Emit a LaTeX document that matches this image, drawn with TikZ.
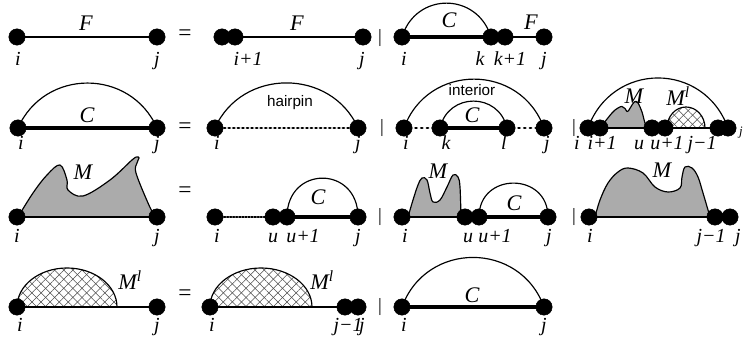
\documentclass[tikz,border=0pt]{standalone}
\usepackage{fontspec}
\setmainfont{Liberation Serif}
\newfontfamily\hlvfont{Liberation Sans}
\usepackage{tkz-euclide}
\usetikzlibrary{patterns.meta}
\definecolor{MClr}{rgb}{0.67,0.67,0.67}
\definecolor{HatchClr}{rgb}{0.3,0.3,0.3}

\begin{document}
\begin{tikzpicture}[x=.03cm,y=.03cm,
  lab/.style={font=\fontsize{17}{19}\selectfont\itshape,anchor=base,inner sep=0pt},
  big/.style={font=\fontsize{19}{22}\selectfont\itshape,inner sep=0pt},
  eq/.style={font=\fontsize{20}{22}\selectfont,inner sep=0pt},
  bar/.style={font=\fontsize{16}{18}\selectfont,inner sep=0pt},
  word/.style={font=\fontsize{13}{15}\selectfont\hlvfont,inner sep=0pt},
  bond/.style={line width=1pt,color=black},
  stem/.style={line width=3.4pt,color=black},
  loopln/.style={line width=2.5pt,color=black,dash pattern=on .9pt off #1},
  mshape/.style={fill=MClr,draw=black,line width=1pt,line join=round},
  hatch/.style={pattern={Lines[angle=#1,distance=5.5pt,line width=.45pt]},pattern color=HatchClr}]
\useasboundingbox (0,0) rectangle (745,343);
\tkzSetUpLine[line width=1pt,color=black]
\tkzSetUpPoint[fill=black]

% row 1
\tkzDefPoints{17/306/Fi,157/306/Fj,222/306/Gi,235/306/Gi1,363/306/Gj,
  402/306/Hi,491/306/Hk,505/306/Hk1,544/306/Hj}
% row 2
\tkzDefPoints{18/215/Ci,157/215/Cj,215/215/Pi,358/215/Pj,
  404/215/Ii,440/215/Ik,507/215/Il,544/215/Ij,
  588/215/Ki,600/215/Ki1,652/215/Ku,665/215/Ku1,667/215/Kd,718/215/Kj1,728/215/Kj}
% row 3
\tkzDefPoints{17/126/Mi,157/126/Mj,215/126/Ni,273/126/Nu,287/126/Nu1,358/126/Nj,
  402/126/Oi,465/126/Ou,479/126/Ou1,548/126/Oj,589/126/Qi,715/126/Qj1,730/126/Qj}
% row 4
\tkzDefPoints{17/36/Li,157/36/Lj,210/36/Ri,345/36/Rj1,358/36/Rj,402/36/Si,544/36/Sj}

% multiloop shapes
\filldraw[mshape] plot[smooth,tension=.6] coordinates {(18,126) (33,150) (47,168) (60,178)
  (67,163) (68,153) (83,147) (110,163) (132,183) (137,186) (139,185) (137,180) (136,170)
  (148,140) (155,126)} -- cycle;
\filldraw[mshape] plot[smooth,tension=.6] coordinates {(600,215) (612,230) (618,235)
  (622,236.5) (625,234.5) (627,231.5) (629,233) (632,238) (635,241.5) (638,240) (642,231)
  (645,220) (648,215)} -- cycle;
\filldraw[mshape] plot[smooth,tension=.6] coordinates {(408,126) (413,143) (418,158)
  (422,165) (427,163) (430,150) (433,141) (440,143) (447,156) (453,168) (458,166)
  (460,156) (461,126)} -- cycle;
\filldraw[mshape] plot[smooth,tension=.6] coordinates {(595,126) (600,143) (608,160)
  (618,171) (628,175) (643,170) (655,156) (668,151) (680,155) (682,166) (685,176)
  (692,175) (698,166) (703,150) (708,133) (710,126)} -- cycle;

% hatched domes
\foreach \ang in {45,-45}{
  \fill[hatch=\ang] (Kd) arc[start angle=180,end angle=0,x radius=19,y radius=21] -- cycle;
  \fill[hatch=\ang] (Li) arc[start angle=180,end angle=0,x radius=50,y radius=39] -- cycle;
  \fill[hatch=\ang] (Ri) arc[start angle=180,end angle=0,x radius=51,y radius=39] -- cycle;
}
\draw[bond] (Kd) arc[start angle=180,end angle=0,x radius=19,y radius=21];
\draw[bond] (Li) arc[start angle=180,end angle=0,x radius=50,y radius=39];
\draw[bond] (Ri) arc[start angle=180,end angle=0,x radius=51,y radius=39];

% backbones
\tkzDrawSegments[bond](Fi,Fj Gi1,Gj Hk1,Hj Ki1,Ku Ku1,Kj1 Mi,Mj Oi,Ou Qi,Qj1 Li,Lj Ri,Rj1)
\tkzDrawSegments[stem](Hi,Hk Ci,Cj Ik,Il Nu1,Nj Ou1,Oj Si,Sj)
\tkzDrawSegments[loopln=3pt](Pi,Pj)
\tkzDrawSegments[loopln=4pt](Ii,Ik Il,Ij)
\tkzDrawSegments[loopln=1.7pt](Ni,Nu)

% base pairs
\draw[bond] (Hi) to[out=73,in=107,looseness=1.36] (Hk);
\draw[bond] (Ci) to[out=66,in=114,looseness=1.21] (Cj);
\draw[bond] (Pi) to[out=66,in=114,looseness=1.18] (Pj);
\draw[bond] (Ii) to[out=70,in=110,looseness=1.27] (Ij);
\draw[bond] (Ik) to[out=77,in=103,looseness=1.41] (Il);
\draw[bond] (Ki) to[out=70,in=110,looseness=1.3] (Kj);
\draw[bond] (Nu1) to[out=90,in=90,looseness=1.87] (Nj);
\draw[bond] (Ou1) to[out=90,in=90,looseness=1.68] (Oj);
\draw[bond] (Si) to[out=70,in=110,looseness=1.27] (Sj);

\tkzDrawPoints[size=14](Fi,Fj,Gi,Gi1,Gj,Hi,Hk,Hk1,Hj,Ci,Cj,Pi,Pj,Ii,Ik,Il,Ij,
  Ki,Ki1,Ku,Ku1,Kj1,Kj,Mi,Mj,Ni,Nu,Nu1,Nj,Oi,Ou,Ou1,Oj,Qi,Qj1,Qj,Li,Lj,Ri,Rj1,Rj,Si,Sj)

% names of the pieces
\node[big] (tF1) at (86,320) {F};
\node[big] (tF2) at (297,320) {F};
\node[big] (tC1) at (449,323) {C};
\node[big] (tF3) at (531,321) {F};
\node[big] (tC2) at (87,228) {C};
\node[word] (thp) at (290,240) {hairpin};
\node[word] (tint) at (472,253) {interior};
\node[big] (tC3) at (472,228) {C};
\node[big] (tM1) at (634,247) {M};
\node[big] (tL1) at (678,247) {M\textsuperscript{l}};
\node[big] (tM2) at (83,171) {M};
\node[big] (tC4) at (318,146) {C};
\node[big] (tM3) at (438,172) {M};
\node[big] (tC5) at (514,140) {C};
\node[big] (tM4) at (662,173) {M};
\node[big] (tL2) at (130,63) {M\textsuperscript{l}};
\node[big] (tL3) at (322,63) {M\textsuperscript{l}};
\node[big] (tC6) at (472,48) {C};

\node[eq] (eq1) at (185,308) {=};
\node[eq] (eq2) at (185,215) {=};
\node[eq] (eq3) at (185,151) {=};
\node[eq] (eq4) at (185,48) {=};
\node[bar] (or1) at (380,305) {|};
\node[bar] (or2) at (382,215) {|};
\node[bar] (or3) at (574,215) {|};
\node[bar] (or4) at (380,126) {|};
\node[bar] (or5) at (574,126) {|};
\node[bar] (or6) at (380,36) {|};

% indices
\node[lab] (lFi) at (18,277) {i};
\node[lab] (lFj) at (157,277) {j};
\node[lab] (lGi) at (248,277) {i+1};
\node[lab] (lGj) at (362,277) {j};
\node[lab] (lHi) at (404,277) {i};
\node[lab] (lHk) at (480,277) {k};
\node[lab] (lHk1) at (510,277) {k+1};
\node[lab] (lHj) at (544,277) {j};

\node[lab] (lCi) at (21,193) {i};
\node[lab] (lCj) at (157,193) {j};
\node[lab] (lPi) at (217,193) {i};
\node[lab] (lPj) at (358,193) {j};
\node[lab] (lIi) at (406,193) {i};
\node[lab] (lIk) at (446,193) {k};
\node[lab] (lIl) at (504,193) {l};
\node[lab] (lIj) at (547,193) {j};
\node[lab] (lKi) at (577,193) {i};
\node[lab] (lKi1) at (602,193) {i+1};
\node[lab] (lKu) at (639,193) {u};
\node[lab] (lKu1) at (667,193) {u+1};
\node[lab] (lKj1) at (702,193) {j−1};
\node[lab,font=\fontsize{11}{12}\selectfont\itshape] (lKj) at (741,207) {j};

\node[lab] (lMi) at (17,100) {i};
\node[lab] (lMj) at (157,100) {j};
\node[lab] (lNi) at (217,100) {i};
\node[lab] (lNu) at (273,100) {u};
\node[lab] (lNu1) at (303,100) {u+1};
\node[lab] (lNj) at (358,100) {j};
\node[lab] (lOi) at (405,100) {i};
\node[lab] (lOu) at (468,100) {u};
\node[lab] (lOu1) at (495,100) {u+1};
\node[lab] (lOj) at (549,100) {j};
\node[lab] (lQi) at (590,100) {i};
\node[lab] (lQj1) at (711,100) {j−1};
\node[lab] (lQj) at (738,100) {j};

\node[lab] (lLi) at (20,11) {i};
\node[lab] (lLj) at (157,11) {j};
\node[lab] (lRi) at (212,11) {i};
\node[lab] (lRj1) at (348,11) {j−1};
\node[lab] (lRj) at (362,11) {j};
\node[lab] (lSi) at (404,11) {i};
\node[lab] (lSj) at (544,11) {j};

\end{tikzpicture}
\end{document}
